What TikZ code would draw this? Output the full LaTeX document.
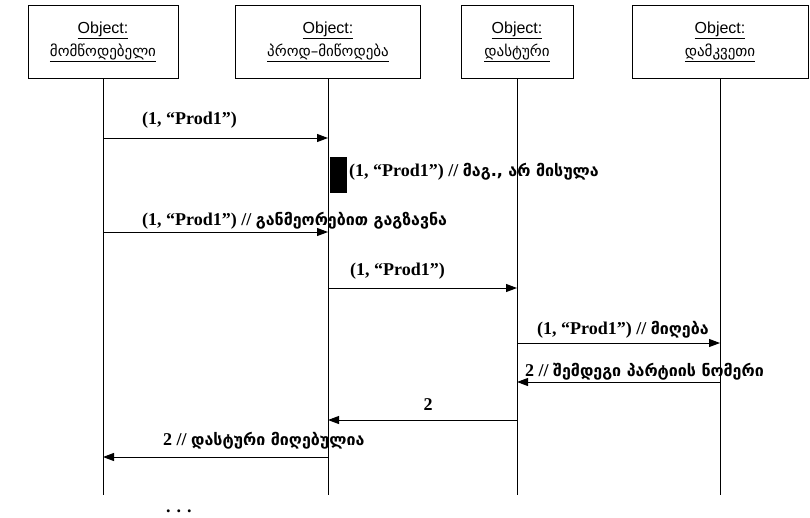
\documentclass[tikz,border=0pt]{standalone}
\usepackage{fontspec}
\setmainfont{Liberation Serif}
\newfontfamily\boxfont{Liberation Sans}
\newfontfamily\geofont[Script=Georgian]{DejaVu Sans}
\usetikzlibrary{arrows.meta}
\newcommand{\geotxt}[1]{{\geofont\fontsize{16}{18}\selectfont #1}}
\tikzset{
  obj/.style={draw, line width=1pt, minimum height=73pt, align=center,
    font=\boxfont\fontsize{16}{23}\selectfont},
  life/.style={line width=1pt},
  msg/.style={line width=1pt, -{Triangle[length=11pt,width=8pt]}},
  lbl/.style={anchor=base west, inner sep=0pt, font=\bfseries\fontsize{18}{20}\selectfont},
}
\begin{document}
\begin{tikzpicture}[x=1pt,y=-1pt]
\useasboundingbox (0,0) rectangle (810,517);
% objetos
\node[obj, minimum width=150pt] (sup) at (103,41.5) {\underline{Object:}\\\underline{\geofont\fontsize{15}{23}\selectfont მომწოდებელი}};
\node[obj, minimum width=185pt] (prod) at (328,41.5) {\underline{Object:}\\\underline{\geofont\fontsize{15}{23}\selectfont პროდ–მიწოდება}};
\node[obj, minimum width=112pt] (conf) at (517,41.5) {\underline{Object:}\\\underline{\geofont\fontsize{15}{23}\selectfont დასტური}};
\node[obj, minimum width=176pt] (cust) at (720,41.5) {\underline{Object:}\\\underline{\geofont\fontsize{15}{23}\selectfont დამკვეთი}};
% lineas de vida
\draw[life] (sup.south) -- (sup.south |- 0,495);
\draw[life] (prod.south) -- (prod.south |- 0,495);
\draw[life] (conf.south) -- (conf.south |- 0,495);
\draw[life] (cust.south) -- (cust.south |- 0,495);
% envio 1
\draw[msg] (sup.south |- 0,138) -- (prod.south |- 0,138);
\node[lbl] (m1) at (142,124) {(1, “Prod1”)};
% perdido
\node[fill, inner sep=0pt, minimum width=17pt, minimum height=36pt] (act) at (338.5,175) {};
\node[lbl] (m2) at (349,176) {(1, “Prod1”) // \geotxt{მაგ., არ მისულა}};
% reenvio
\draw[msg] (sup.south |- 0,232) -- (prod.south |- 0,232);
\node[lbl] (m3) at (142,225) {(1, “Prod1”) // \geotxt{განმეორებით გაგზავნა}};
\draw[msg] (prod.south |- 0,288) -- (conf.south |- 0,288);
\node[lbl] (m4) at (350,275) {(1, “Prod1”)};
\draw[msg] (conf.south |- 0,343) -- (cust.south |- 0,343);
\node[lbl] (m5) at (537,334) {(1, “Prod1”) // \geotxt{მიღება}};
% respuestas
\draw[msg] (cust.south |- 0,382) -- (conf.south |- 0,382);
\node[lbl] (m6) at (525,376) {2 // \geotxt{შემდეგი პარტიის ნომერი}};
\draw[msg] (conf.south |- 0,420) -- (prod.south |- 0,420);
\node[lbl, anchor=base] (m7) at (428,410) {2};
\draw[msg] (prod.south |- 0,457) -- (sup.south |- 0,457);
\node[lbl] (m8) at (163,445) {2 // \geotxt{დასტური მიღებულია}};
\node[lbl] (more) at (166,512) {. . .};
\end{tikzpicture}
\end{document}
